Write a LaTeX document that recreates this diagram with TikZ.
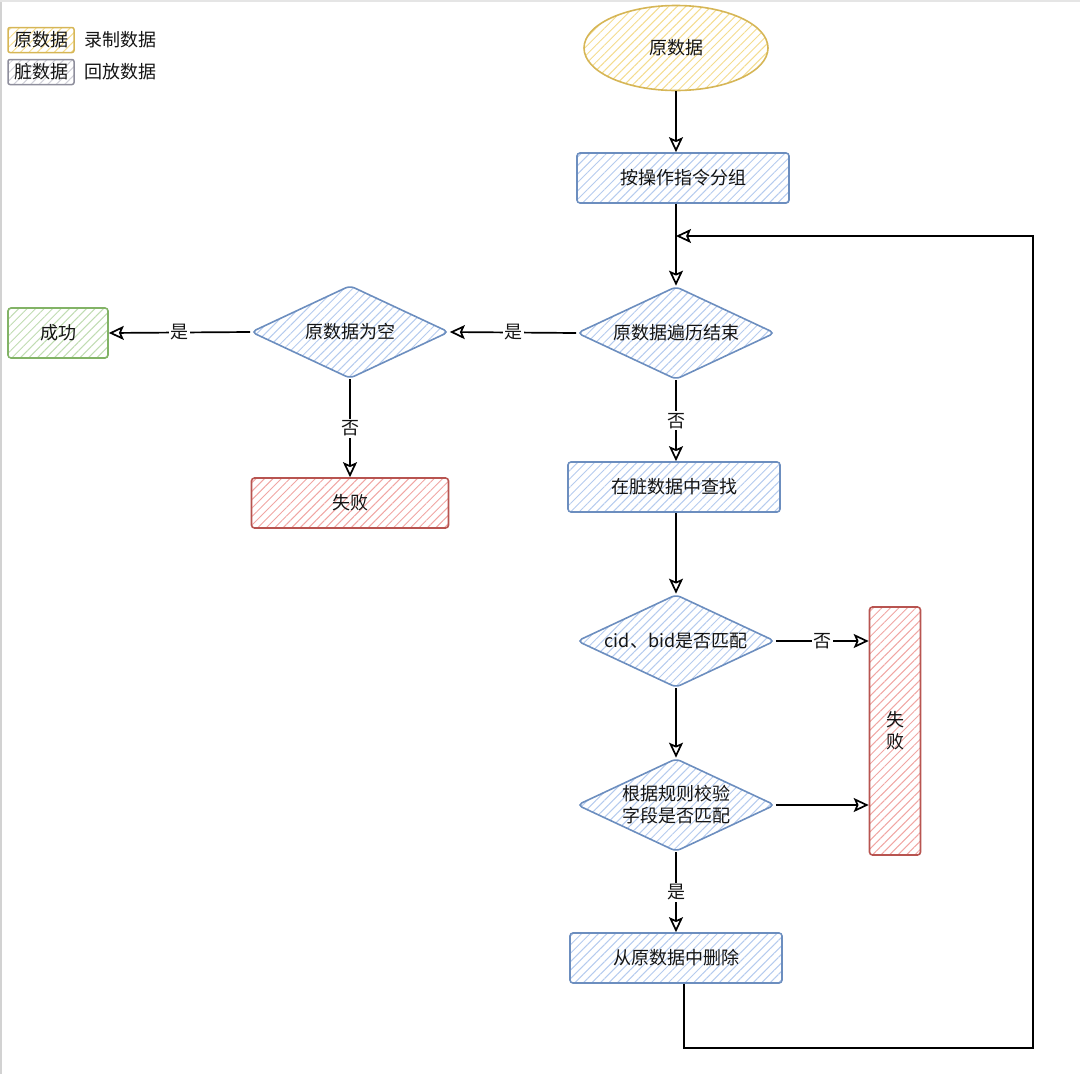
\documentclass[tikz,border=0pt]{standalone}
\usepackage{fontspec}
\setmainfont{Noto Sans CJK SC}
\usetikzlibrary{shapes.geometric, positioning, arrows.meta, patterns.meta}

\definecolor{blueline}{HTML}{6C8EBF}
\definecolor{bluehatch}{HTML}{B5CBEE}
\definecolor{yellowline}{HTML}{D6B656}
\definecolor{yellowhatch}{HTML}{F4DC8E}
\definecolor{redline}{HTML}{B85450}
\definecolor{redhatch}{HTML}{F0A6A3}
\definecolor{greenline}{HTML}{82B366}
\definecolor{greenhatch}{HTML}{C0DCB2}
\definecolor{grayline}{HTML}{8E8E9C}
\definecolor{grayhatch}{HTML}{D0D0D8}

\tikzset{
  hatch/.style={pattern={Lines[angle=45,distance=6pt,line width=1pt]}, pattern color=#1},
  proc/.style={draw=blueline, line width=1.6pt, rounded corners=3pt, hatch=bluehatch, minimum width=212pt, minimum height=50pt, inner sep=0},
  dec/.style={diamond, draw=blueline, line width=1.6pt, rounded corners=5pt, hatch=bluehatch, shape aspect=2.13, minimum width=198pt, minimum height=93pt, inner sep=0, align=center},
  bad/.style={draw=redline, line width=1.6pt, rounded corners=3pt, hatch=redhatch, inner sep=0, align=center},
  good/.style={draw=greenline, line width=1.6pt, rounded corners=3pt, hatch=greenhatch, minimum width=100pt, minimum height=50pt, inner sep=0},
  legbox/.style={draw=#1line, line width=1.5pt, rounded corners=2pt, hatch=#1hatch, minimum width=66pt, minimum height=25pt, inner sep=0},
  line/.style={line width=1.7pt, -{Stealth[open, inset=3pt, length=15pt, width=14pt]}},
  lab/.style={fill=white, inner sep=1.5pt}
}

\begin{document}
\begin{tikzpicture}[x=1pt, y=-1pt, font=\fontsize{18}{22}\selectfont, text=black!92]
    \useasboundingbox (0,0) rectangle (1080,1074);
    \draw[gray!35, line width=2pt] (1,0) -- (1,1074);
    \draw[gray!20, line width=2pt] (0,1) -- (1080,1);

    % legend
    \node[legbox=yellow] (lgraw) at (41,40) {原数据};
    \node[right=6pt of lgraw] (lgrec) {录制数据};
    \node[legbox=gray] (lgdirty) at (41,72) {脏数据};
    \node[right=6pt of lgdirty] (lgplay) {回放数据};

    % main column
    \node[ellipse, draw=yellowline, line width=1.6pt, hatch=yellowhatch, minimum width=184pt, minimum height=85pt] (start) at (676,48) {原数据};
    \node[proc] (group) at (683,178) {按操作指令分组};
    \node[dec] (loopcheck) at (676,333) {原数据遍历结束};
    \node[proc] (find) at (674,487) {在脏数据中查找};
    \node[dec] (idcheck) at (676,641) {cid、bid是否匹配};
    \node[dec] (rulecheck) at (676,805) {根据规则校验\\字段是否匹配};
    \node[proc] (del) at (676,958) {从原数据中删除};

    % left branch
    \node[dec] (empty) at (350,332) {原数据为空};
    \node[good] (ok) at (58,333) {成功};
    \node[bad, minimum width=197pt, minimum height=50pt] (fail) at (350,503) {失败};
    \node[bad, minimum width=51pt, minimum height=248pt] (failv) at (895,731) {失\\败};

    \coordinate (loopin) at (676,236);
    \coordinate (corner) at (1033,1048);

    \draw[line] (start.south) -- (start.south |- group.north);
    \draw[line] (loopcheck.north |- group.south) -- (loopcheck.north);
    \draw[line] (loopcheck.west) -- node[lab] {是} (empty.east);
    \draw[line] (empty.west) -- node[lab] {是} (ok.east);
    \draw[line] (empty.south) -- node[lab] {否} (fail.north);
    \draw[line] (loopcheck.south) -- node[lab] {否} (loopcheck.south |- find.north);
    \draw[line] (find.south -| idcheck.north) -- (idcheck.north);
    \draw[line] (idcheck.east) -- node[lab] {否} (idcheck.east -| failv.west);
    \draw[line] (idcheck.south) -- (rulecheck.north);
    \draw[line] (rulecheck.east) -- (rulecheck.east -| failv.west);
    \draw[line] (rulecheck.south) -- node[lab] {是} (del.north);

    % back to the loop
    \draw[line] ([xshift=8pt]del.south) |- (corner) |- (loopin);
\end{tikzpicture}
\end{document}
